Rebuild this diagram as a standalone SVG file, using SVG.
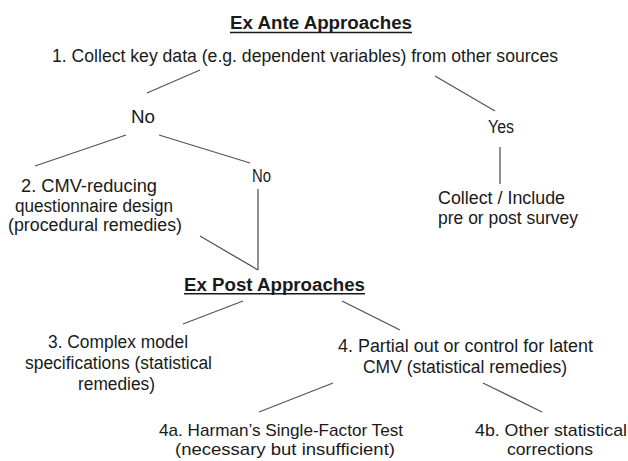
<svg xmlns="http://www.w3.org/2000/svg" width="628" height="461" viewBox="0 0 628 461">
<style>
text{font-family:"Liberation Sans",Arial,sans-serif;font-size:18px;fill:#1a1a1a;text-anchor:middle;}
.h{font-weight:bold;}
.s{text-anchor:start;}
.t{font-size:17px;}
.ul{stroke:#1a1a1a;stroke-width:1.4;}
#connectors line{stroke:#555;stroke-width:1.3;}
</style>
<rect width="628" height="461" fill="#fff"/>
<g id="connectors">
<line x1="200" y1="70" x2="147" y2="93"/>
<line x1="435" y1="76" x2="495" y2="111"/>
<line x1="126" y1="135" x2="35" y2="166"/>
<line x1="159" y1="135" x2="250" y2="163"/>
<line x1="500" y1="147" x2="500" y2="184"/>
<line x1="258" y1="189" x2="258" y2="270"/>
<line x1="200" y1="236" x2="258" y2="270"/>
<line x1="243" y1="301" x2="183" y2="324"/>
<line x1="342" y1="301" x2="400" y2="330"/>
<line x1="333" y1="383" x2="259" y2="412"/>
<line x1="483" y1="383" x2="542" y2="412"/>
</g>
<g id="exante"><text class="h" x="321" y="29" textLength="182" lengthAdjust="spacingAndGlyphs">Ex  Ante Approaches</text><line class="ul" x1="230" y1="32.5" x2="412" y2="32.5"/></g>
<g id="n1"><text x="305" y="62" textLength="506" lengthAdjust="spacingAndGlyphs">1. Collect key data (e.g. dependent variables) from other sources</text></g>
<g id="no1"><text x="143" y="122.5" font-size="19" textLength="24" lengthAdjust="spacingAndGlyphs">No</text></g>
<g id="yes"><text x="501" y="132.5" font-size="19" textLength="26" lengthAdjust="spacingAndGlyphs">Yes</text></g>
<g id="n2">
<text x="89" y="191.5" textLength="136" lengthAdjust="spacingAndGlyphs">2. CMV-reducing</text>
<text x="94" y="211.5" textLength="158" lengthAdjust="spacingAndGlyphs">questionnaire design</text>
<text x="95" y="230.5" textLength="174" lengthAdjust="spacingAndGlyphs">(procedural remedies)</text>
</g>
<g id="no2"><text x="261.5" y="181.5" textLength="19" lengthAdjust="spacingAndGlyphs">No</text></g>
<g id="collect">
<text class="s" x="438" y="204.3" textLength="127" lengthAdjust="spacingAndGlyphs">Collect / Include</text>
<text class="s" x="438" y="224.3" textLength="140" lengthAdjust="spacingAndGlyphs">pre or post survey</text>
</g>
<g id="expost"><text class="h" x="274.5" y="290.5" textLength="181" lengthAdjust="spacingAndGlyphs">Ex  Post Approaches</text><line class="ul" x1="184" y1="293.8" x2="365" y2="293.8"/></g>
<g id="n3">
<text x="118" y="348" textLength="140" lengthAdjust="spacingAndGlyphs">3. Complex model</text>
<text x="118.5" y="369" textLength="187" lengthAdjust="spacingAndGlyphs">specifications (statistical</text>
<text x="116.5" y="390" textLength="77" lengthAdjust="spacingAndGlyphs">remedies)</text>
</g>
<g id="n4">
<text x="465.5" y="352" textLength="255" lengthAdjust="spacingAndGlyphs">4. Partial out or control for latent</text>
<text x="465" y="373" textLength="204" lengthAdjust="spacingAndGlyphs">CMV (statistical remedies)</text>
</g>
<g id="n4a">
<text class="t" x="281" y="436" textLength="244" lengthAdjust="spacingAndGlyphs">4a. Harman’s Single-Factor Test</text>
<text class="t" x="285" y="455" textLength="220" lengthAdjust="spacingAndGlyphs">(necessary but insufficient)</text>
</g>
<g id="n4b">
<text class="t" x="551" y="436" textLength="152" lengthAdjust="spacingAndGlyphs">4b. Other statistical</text>
<text class="t" x="550" y="455" textLength="86" lengthAdjust="spacingAndGlyphs">corrections</text>
</g>
</svg>
